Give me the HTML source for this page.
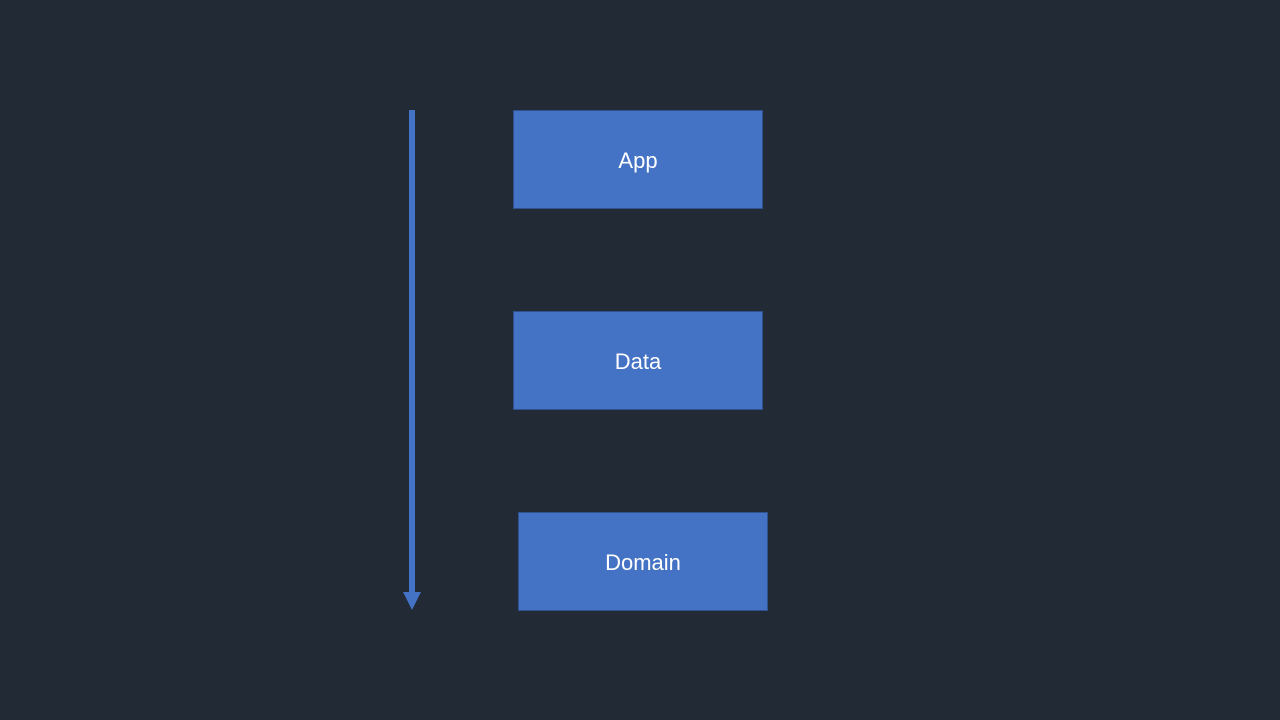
<!DOCTYPE html>
<html><head><style>
html,body{margin:0;padding:0;}
body{width:1280px;height:720px;background:#222a35;position:relative;overflow:hidden;font-family:"Liberation Sans",sans-serif;}
.b{position:absolute;background:#4472c4;border:1px solid #2f528f;box-sizing:border-box;color:#fff;font-size:22px;display:flex;align-items:center;justify-content:center;padding-top:3px;}
</style></head><body>
<div class="b" style="left:513px;top:110px;width:250px;height:99px;">App</div>
<div class="b" style="left:513px;top:311px;width:250px;height:99px;">Data</div>
<div class="b" style="left:518px;top:512px;width:250px;height:99px;">Domain</div>
<svg width="1280" height="720" style="position:absolute;left:0;top:0">
<rect x="409" y="110" width="6" height="484" fill="#4472c4"/>
<polygon points="403,592 421,592 412,610" fill="#4472c4"/>
</svg>
</body></html>
